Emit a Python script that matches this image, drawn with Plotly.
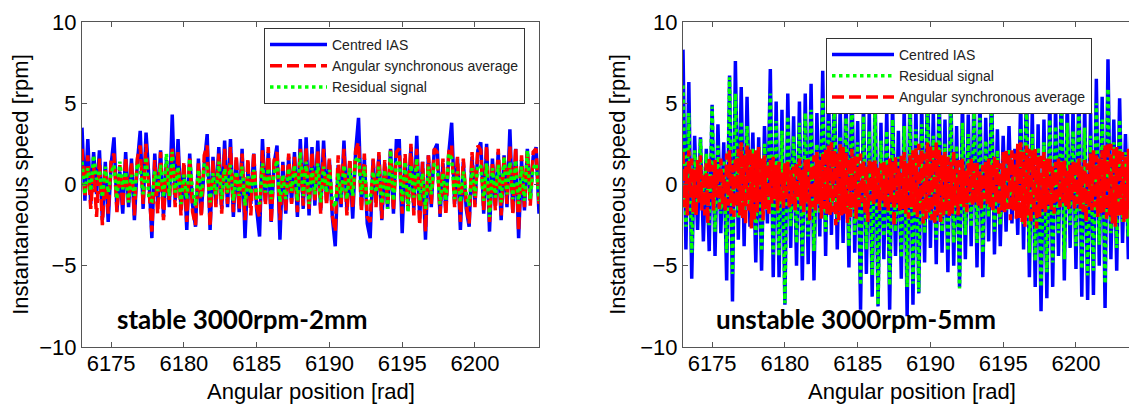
import numpy as np
import plotly.graph_objects as go

# ---------------- data ----------------
angle_start = 6173.0      # rad, first sample
angle_end = 6204.4        # rad, last sample

x_ticks = [6175, 6180, 6185, 6190, 6195, 6200]
y_ticks = [-10, -5, 0, 5, 10]

# stable 3000rpm-2mm  (samples every 0.2 rad)
stable_ias = [
    3.5, -1.0, 2.8, -1.2, 2.0, -0.6, 2.1, -2.2, 1.4, -2.3,
    1.2, 2.9, -1.6, 0.8, -1.8, 2.0, -1.4, 1.6, -2.2, 1.3,
    3.3, -1.5, 3.2, 0.4, -3.3, 1.9, -1.2, 2.1, -2.0, 1.5,
    -1.4, 4.3, -1.0, 2.8, -1.6, 1.2, -2.8, 1.9, -1.3, -2.6,
    1.6, -1.8, 1.2, 3.1, -2.8, 1.7, -1.2, 2.3, -1.5, 2.7,
    -1.4, 2.8, -2.0, 1.5, -1.7, 2.2, -3.3, 1.0, -1.2, 1.9,
    -1.5, -3.2, 2.8, -1.0, 2.0, -2.3, 1.3, 2.4, -3.4, 1.4,
    -1.8, 1.7, -1.1, 2.0, -2.0, 2.8, -1.5, 2.9, -1.9, 2.3,
    -1.3, 2.7, -1.6, 2.7, -1.0, 1.5, -2.0, -3.8, 1.2, -1.4,
    2.7, -1.6, 1.4, -2.1, 2.0, 4.1, -1.3, 1.6, -2.4, -3.3,
    1.5, -1.1, 1.8, -2.2, 1.3, -1.5, 2.2, -1.8, 2.7, 2.7,
    -3.0, 1.6, -1.2, 2.3, -1.6, 3.0, -2.1, 1.4, -3.4, 1.8,
    -1.4, 2.1, 2.5, -2.0, 1.3, -1.6, 1.9, 3.8, -1.2, 1.6,
    -2.8, 1.4, -1.5, -2.6, 1.7, -1.2, 2.1, 2.6, -1.8, 2.5,
    -2.9, 1.6, -1.3, 2.0, -2.2, 1.8, -1.4, 3.4, -1.7, 2.2,
    -3.3, 1.5, -1.6, 2.2, -1.0, 1.7, 2.3, -1.8,
]
stable_asa = [
    2.2, -0.8, 1.8, -1.5, 1.2, -2.0, 1.6, -2.5, 1.0, -1.8,
    1.5, 1.9, -1.7, 1.2, -1.4, 1.7, -1.1, 1.4, -1.9, 1.6,
    2.4, -1.2, 2.5, -0.6, -2.9, 1.5, -1.8, 2.0, -2.2, 1.2,
    -1.0, 2.3, -1.4, 2.1, -1.9, 1.4, -2.3, 1.6, -1.7, -2.5,
    1.3, -2.0, 1.8, 2.4, -2.6, 1.5, -1.4, 1.9, -1.8, 2.2,
    -1.2, 2.3, -1.7, 1.8, -1.5, 1.9, -2.2, 1.6, -1.9, 2.0,
    -1.4, -2.0, 2.1, -1.3, 2.3, -2.4, 1.5, 2.0, -2.2, 1.2,
    -1.6, 1.9, -1.2, 1.7, -1.7, 2.2, -1.3, 2.3, -1.5, 2.0,
    -1.1, 2.1, -1.8, 2.2, -1.3, 1.6, -1.9, -2.9, 1.8, -1.2,
    2.2, -1.9, 1.6, -1.5, 2.1, 2.6, -1.7, 1.9, -2.0, -2.3,
    1.6, -1.4, 2.0, -2.1, 1.5, -1.2, 2.1, -1.6, 2.0, 2.2,
    -1.8, 1.9, -1.6, 2.5, -1.9, 2.2, -2.5, 1.4, -2.9, 1.8,
    -1.2, 2.2, 2.0, -1.8, 1.6, -1.9, 2.0, 2.4, -1.4, 1.7,
    -2.3, 1.6, -1.2, -2.4, 2.0, -1.4, 2.4, 2.1, -1.6, 2.4,
    -2.3, 1.4, -1.6, 2.2, -1.9, 1.7, -1.2, 2.4, -1.8, 2.3,
    -2.9, 1.8, -1.4, 2.1, -1.3, 2.0, 2.2, -1.2,
]
stable_res = [
    1.4, -0.6, 1.0, -0.4, 1.8, 0.3, 0.9, -0.8, 1.1, -0.5,
    0.7, 1.2, -0.9, 1.4, -0.3, 0.8, -1.1, 0.6, -0.7, 1.3,
    0.9, -0.6, 1.7, -0.9, -1.0, 0.8, -0.4, 1.2, -0.8, 1.9,
    -0.7, 2.0, -0.5, 1.1, -1.2, 0.6, -0.9, 1.6, -0.4, -1.3,
    0.9, -0.8, 1.3, 1.0, -1.1, 0.7, -0.6, 1.4, -0.9, 1.0,
    -0.5, 1.2, -1.0, 0.8, -0.7, 1.1, -1.3, 0.5, -0.6, 0.9,
    -0.8, -1.2, 1.3, -0.5, 1.0, -0.9, 0.7, 1.5, -1.1, 0.6,
    -0.9, 1.0, -0.4, 1.2, -1.0, 2.0, -0.7, 1.4, -1.2, 1.0,
    -0.6, 1.3, -1.1, 1.1, -0.5, 0.9, -1.0, -1.4, 0.7, -0.8,
    1.2, -0.9, 1.0, -0.7, 1.5, 1.7, -0.6, 1.1, -1.3, -1.0,
    0.8, -0.5, 1.1, -1.2, 0.9, -1.5, 2.1, -1.0, 1.3, 1.5,
    -1.1, 1.4, -1.7, 1.2, -0.8, 1.6, -1.0, 0.7, -1.5, 1.1,
    -0.6, 1.3, 1.1, -1.2, 0.7, -1.0, 1.9, 1.6, -0.9, 0.8,
    -1.1, 0.8, -0.6, -1.3, 1.0, -0.7, 1.2, 1.1, -1.0, 1.3,
    -2.0, 1.0, -0.8, 1.2, -1.1, 1.7, -0.6, 1.4, -0.9, 1.5,
    -1.2, 1.1, -1.0, 2.1, -0.9, 1.0, 1.3, -1.0,
]

# unstable 3000rpm-5mm  (IAS / residual every 0.2 rad, ASA every 0.1 rad)
unstable_ias = [
    8.3, -4.0, 6.3, -5.8, 3.0, -2.8, 2.9, -3.5, 2.2, -4.1,
    4.9, -4.4, 3.7, -3.0, 2.6, -5.9, 6.7, -7.2, 7.6, -3.4,
    6.0, -3.8, 5.4, -2.6, 3.2, -4.8, 2.9, -5.3, 3.6, -2.4,
    7.1, -5.7, 5.1, -5.7, 4.6, -7.4, 5.6, -3.9, 4.2, -5.0,
    5.1, -5.9, 5.6, -4.9, 6.2, -5.9, 4.4, -3.2, 7.0, -4.4,
    5.8, -3.1, 6.4, -4.0, 4.8, -3.6, 5.5, -5.1, 6.8, -4.2,
    3.9, -7.7, 5.3, -5.5, 4.6, -6.9, 5.8, -7.5, 3.8, -4.6,
    4.7, -7.7, 5.2, -4.4, 3.3, -5.8, 4.9, -8.1, 6.2, -7.4,
    5.0, -6.7, 5.1, -4.8, 6.6, -3.9, 4.5, -4.9, 5.7, -4.2,
    4.0, -5.4, 6.0, -5.0, 3.6, -6.3, 5.2, -4.6, 4.3, -3.8,
    5.9, -5.1, 5.5, -5.7, 4.1, -3.5, 6.1, -4.3, 3.4, -3.8,
    3.0, -2.9, 3.6, -2.4, 2.2, -3.1, 5.1, -4.0, 6.3, -5.7,
    4.5, -6.3, 3.7, -7.8, 4.0, -7.0, 5.6, -6.3, 4.9, -4.4,
    6.4, -5.9, 5.3, -3.9, 4.7, -5.2, 6.2, -6.9, 5.0, -7.1,
    4.4, -6.8, 6.5, -5.0, 5.4, -7.6, 7.7, -4.6, 4.0, -5.3,
    5.3, -3.6, 3.1, -4.6, 4.9, -4.4, 5.7, -3.0,
]
unstable_res = [
    6.1, -2.6, 4.4, -4.2, 2.1, -1.2, 2.8, -1.3, 1.9, -2.5,
    4.8, -2.9, 2.4, -1.8, 1.5, -4.2, 6.6, -5.5, 5.6, -2.1,
    3.9, -2.0, 3.6, -1.3, 2.2, -3.1, 2.3, -4.1, 2.5, -1.6,
    5.6, -4.3, 3.9, -4.4, 3.3, -7.3, 4.2, -2.6, 3.0, -3.6,
    3.8, -4.4, 4.4, -3.2, 4.6, -4.1, 2.5, -1.8, 5.3, -2.9,
    3.9, -1.4, 4.6, -2.3, 3.0, -1.8, 4.1, -3.8, 5.2, -3.1,
    2.6, -6.2, 4.2, -4.0, 3.3, -5.6, 4.7, -7.4, 2.7, -3.2,
    3.3, -6.2, 4.0, -2.9, 1.7, -4.5, 3.6, -6.3, 4.5, -6.1,
    3.4, -6.6, 3.7, -3.0, 4.6, -2.2, 3.0, -3.4, 4.3, -2.9,
    2.5, -4.1, 4.8, -3.6, 2.4, -6.4, 3.8, -3.1, 3.1, -2.6,
    4.4, -3.6, 4.1, -4.2, 2.7, -2.0, 4.6, -2.9, 2.1, -2.5,
    1.9, -1.6, 2.2, -1.2, 1.0, -1.6, 3.5, -2.5, 4.8, -4.2,
    3.1, -4.7, 2.3, -6.3, 2.6, -5.4, 4.0, -4.8, 3.6, -3.0,
    5.0, -4.6, 3.8, -2.5, 3.3, -3.8, 4.7, -5.2, 3.5, -5.6,
    3.0, -5.3, 5.0, -3.7, 4.0, -6.1, 5.9, -3.0, 2.6, -3.9,
    4.0, -2.3, 2.0, -3.2, 3.6, -3.1, 5.8, -2.0,
]
unstable_asa = [
    2.0, -1.4, 1.1, -1.9, 2.1, -0.8, 1.6, -1.7, 0.9, -2.0,
    1.5, -1.1, 1.8, -1.6, 0.7, -1.9, 1.3, -2.4, 1.7, -0.9,
    1.2, -1.6, 1.5, -0.8, 1.0, -1.5, 1.6, -1.2, 0.6, -1.7,
    1.9, -1.3, 2.1, -1.8, 1.2, -2.0, 1.7, -1.4, 2.2, -1.9,
    2.6, -2.1, 1.8, -2.5, 2.4, -1.6, 2.2, -2.7, 1.9, -2.2,
    2.1, -1.7, 2.3, -1.2, 1.6, -2.2, 1.8, -1.5, 1.3, -1.9,
    1.5, -1.2, 1.7, -0.9, 1.2, -1.6, 1.4, -1.1, 0.8, -1.5,
    1.3, -1.0, 1.4, -1.5, 0.9, -1.2, 1.1, -1.6, 1.4, -0.8,
    1.6, -1.3, 0.9, -1.7, 1.5, -1.1, 1.7, -2.2, 1.2, -1.4,
    1.8, -1.6, 2.0, -1.2, 1.5, -2.1, 1.9, -1.5, 2.2, -1.8,
    2.4, -2.0, 2.6, -1.7, 2.1, -2.5, 1.9, -2.2, 2.5, -1.9,
    2.3, -1.8, 2.0, -2.4, 1.6, -2.0, 2.2, -1.5, 1.8, -2.1,
    1.7, -1.4, 1.9, -1.1, 1.5, -1.8, 1.2, -2.3, 1.6, -1.0,
    1.4, -1.2, 1.5, -0.9, 1.1, -1.6, 1.3, -1.0, 1.5, -1.4,
    1.2, -1.7, 1.6, -1.1, 1.4, -2.6, 1.7, -1.3, 1.0, -1.6,
    1.9, -1.5, 2.0, -1.8, 1.3, -2.1, 1.8, -1.4, 2.1, -1.7,
    2.3, -2.0, 2.5, -1.6, 2.2, -2.4, 1.9, -2.1, 2.6, -1.8,
    2.4, -2.2, 2.1, -2.5, 2.6, -1.9, 2.2, -2.3, 1.8, -2.0,
    2.0, -1.6, 1.7, -2.0, 1.4, -1.8, 2.1, -1.3, 1.6, -1.9,
    1.5, -1.2, 1.6, -1.4, 0.9, -1.7, 1.3, -1.1, 1.6, -1.3,
    1.3, -1.1, 1.4, -1.3, 0.8, -1.5, 1.2, -0.9, 1.4, -1.2,
    1.6, -1.4, 1.2, -1.7, 1.7, -1.1, 1.5, -1.8, 1.3, -1.6,
    2.0, -1.7, 2.2, -1.5, 1.8, -2.2, 2.1, -1.6, 1.9, -2.1,
    2.5, -2.1, 2.6, -2.3, 2.0, -2.6, 2.4, -1.9, 2.2, -2.4,
    2.1, -1.8, 2.2, -2.7, 1.7, -2.0, 1.9, -1.5, 2.0, -1.7,
    1.6, -1.3, 1.7, -1.6, 1.1, -1.8, 1.4, -1.2, 1.6, -1.4,
    1.4, -1.1, 1.5, -1.3, 0.9, -1.5, 1.2, -1.0, 1.4, -1.6,
    1.5, -1.2, 1.6, -1.5, 1.1, -1.7, 1.5, -2.3, 1.3, -1.4,
    1.9, -1.6, 2.1, -1.4, 1.8, -2.0, 1.6, -1.8, 2.1, -1.7,
    2.4, -2.1, 2.6, -1.9, 2.5, -2.4, 2.2, -2.6, 2.3, -2.0,
    2.2, -1.9, 2.0, -2.3, 1.7, -2.1, 2.2, -1.6, 1.9, -2.0,
    1.8, -1.5, 1.7, -1.9, 1.4,
]

names = {
    "ias": "Centred IAS",
    "asa": "Angular synchronous average",
    "res": "Residual signal",
}
x_title = "Angular position [rad]"
y_title = "Instantaneous speed [rpm]"
panel_labels = ["stable 3000rpm-2mm", "unstable 3000rpm-5mm"]

# ---------------- figure ----------------
W, H = 1137, 405
OFF = 8          # the page body margin shifts the figure by this many px


def fx(px):      # page pixel -> paper x
    return (px - OFF) / W


def fy(py):      # page pixel -> paper y
    return 1 - (py - OFF) / H


BLUE, RED, GREEN = "#0000FF", "#FF0000", "#00FF00"
LW = 3.5
RED_DASH = "12px,5px"


def angles(values):
    # evenly spaced sample positions over the recorded angular window
    return np.linspace(angle_start, angle_end, len(values))


fig = go.Figure()

# left panel: IAS, ASA, residual
fig.add_trace(go.Scatter(x=angles(stable_ias), y=stable_ias, mode="lines",
                         name=names["ias"], line=dict(color=BLUE, width=LW),
                         xaxis="x", yaxis="y", legend="legend"))
fig.add_trace(go.Scatter(x=angles(stable_asa), y=stable_asa, mode="lines",
                         name=names["asa"], line=dict(color=RED, width=LW, dash=RED_DASH),
                         xaxis="x", yaxis="y", legend="legend"))
fig.add_trace(go.Scatter(x=angles(stable_res), y=stable_res, mode="lines",
                         name=names["res"], line=dict(color=GREEN, width=LW, dash="dot"),
                         xaxis="x", yaxis="y", legend="legend"))

# right panel: IAS, residual, ASA
fig.add_trace(go.Scatter(x=angles(unstable_ias), y=unstable_ias, mode="lines",
                         name=names["ias"], line=dict(color=BLUE, width=LW),
                         xaxis="x2", yaxis="y2", legend="legend2"))
fig.add_trace(go.Scatter(x=angles(unstable_res), y=unstable_res, mode="lines",
                         name=names["res"], line=dict(color=GREEN, width=LW, dash="dot"),
                         xaxis="x2", yaxis="y2", legend="legend2"))
fig.add_trace(go.Scatter(x=angles(unstable_asa), y=unstable_asa, mode="lines",
                         name=names["asa"], line=dict(color=RED, width=LW, dash=RED_DASH),
                         xaxis="x2", yaxis="y2", legend="legend2"))

FAM = "Liberation Sans, Arial, sans-serif"
AX_FONT = dict(family=FAM, size=22, color="black")
LEG_FONT = dict(family=FAM, size=14, color="#222222")
LINE_COL = "#555555"

common_x = dict(tickvals=x_ticks, ticks="inside", ticklen=5, tickcolor=LINE_COL,
                showline=True, linecolor=LINE_COL, linewidth=1, showgrid=False,
                zeroline=False, tickfont=AX_FONT, automargin=False,
                ticklabelstandoff=-3, ticklabeloverflow="allow")
common_y = dict(tickvals=y_ticks, range=[-10, 10], ticks="inside", ticklen=5,
                tickcolor=LINE_COL, showline=True, linecolor=LINE_COL, linewidth=1,
                showgrid=False, zeroline=False, tickfont=AX_FONT, automargin=False,
                ticklabeloverflow="allow",
                title=dict(text=y_title, font=AX_FONT, standoff=8))

# panel boxes in page pixels: left 82..539, right 683..(past the window), rows 22..347
px_per_rad = (539 - 82) / (angle_end - angle_start)
L_DOM = [fx(82), fx(539)]
R_DOM = [fx(683), 1.0]
right_end = angle_start + (W + OFF - 683) / px_per_rad
y_dom = [fy(347), fy(22)]

annotations = []
# x-axis titles, centred under each panel's full axis
for cx in (310.5, 912.0):
    annotations.append(dict(text=x_title, xref="paper", yref="paper",
                            x=fx(cx), y=fy(391), xanchor="center", yanchor="middle",
                            showarrow=False, font=AX_FONT))
for label, lx in zip(panel_labels, (115, 714)):
    annotations.append(dict(text="<b>" + label + "</b>", xref="paper", yref="paper",
                            x=fx(lx), y=fy(319), xanchor="left", yanchor="middle",
                            showarrow=False,
                            font=dict(family="Lato, sans-serif", size=26, color="black")))

fig.update_layout(
    template="none",
    width=W, height=H,
    margin=dict(l=0, r=0, t=0, b=0, pad=0, autoexpand=False),
    paper_bgcolor="white", plot_bgcolor="white",
    xaxis=dict(domain=L_DOM, range=[angle_start, angle_end], anchor="y",
               mirror="ticks", **common_x),
    yaxis=dict(domain=y_dom, anchor="x", mirror="ticks", **common_y),
    xaxis2=dict(domain=R_DOM, range=[angle_start, right_end],
                anchor="y2", mirror="ticks", **common_x),
    yaxis2=dict(domain=y_dom, anchor="x2", mirror=False, **common_y),
    legend=dict(x=fx(264), y=fy(28), xanchor="left", yanchor="top",
                bgcolor="white", bordercolor="#333333", borderwidth=1,
                font=LEG_FONT, itemwidth=57, tracegroupgap=0),
    legend2=dict(x=fx(826), y=fy(38), xanchor="left", yanchor="top",
                 bgcolor="white", bordercolor="#333333", borderwidth=1,
                 font=LEG_FONT, itemwidth=62, tracegroupgap=0),
    showlegend=True,
    annotations=annotations,
)

fig.write_html("out.html")
